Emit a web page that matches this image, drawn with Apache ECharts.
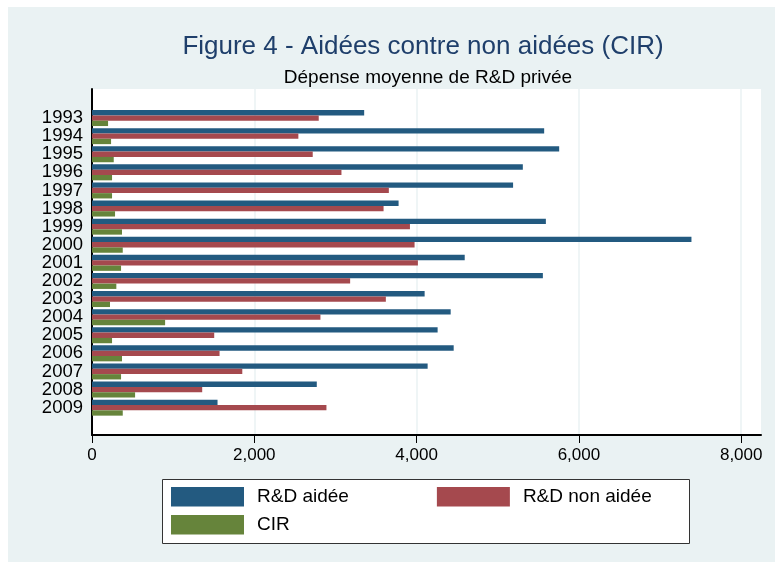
<!DOCTYPE html>
<html>
<head>
<meta charset="utf-8">
<title>Figure 4 - Aidées contre non aidées (CIR)</title>
<script src="https://cdn.jsdelivr.net/npm/echarts@6/dist/echarts.min.js"></script>
<style>
  html, body { margin: 0; padding: 0; background: #fff; }
  #chart { position: absolute; left: 8px; top: 7px; width: 767px; height: 555px; }
</style>
</head>
<body>
<div id="chart"></div>
<script>
const years = ["1993", "1994", "1995", "1996", "1997", "1998", "1999", "2000", "2001",
  "2002", "2003", "2004", "2005", "2006", "2007", "2008", "2009"];
const rdAidee = [3354, 5572, 5757, 5309, 5189, 3778, 5593, 7387, 4593, 5556, 4099, 4420, 4259, 4457, 4136, 2770, 1547];
const rdNonAidee = [2794, 2543, 2720, 3074, 3658, 3593, 3918, 3975, 4016, 3181, 3621, 2815, 1506, 1572, 1852, 1358, 2889];
const cir = [198, 235, 268, 247, 247, 284, 370, 379, 358, 300, 222, 901, 247, 370, 358, 531, 379];
const xTicks = [0, 2000, 4000, 6000, 8000];

const font = "'Liberation Sans', Arial, Helvetica, sans-serif";
const xMax = 8244;

const chart = echarts.init(document.getElementById("chart"));

function barSeries(name, data, color) {
  return {
    name: name,
    type: "bar",
    xAxisIndex: 1,
    yAxisIndex: 1,
    data: data,
    barWidth: 5.33,
    barGap: "0%",
    itemStyle: { color: color },
    emphasis: { disabled: true }
  };
}

const option = {
  backgroundColor: "#eaf2f3",
  animation: false,
  title: [
    {
      text: "Figure 4 - Aidées contre non aidées (CIR)",
      left: 415,
      top: 27,
      textAlign: "center",
      padding: 0,
      textStyle: { fontFamily: font, fontSize: 26, fontWeight: "normal", color: "#1f3f6b" }
    },
    {
      text: "Dépense moyenne de R&D privée",
      left: 420,
      top: 61,
      textAlign: "center",
      padding: 0,
      textStyle: { fontFamily: font, fontSize: 19, fontWeight: "normal", color: "#000" }
    }
  ],
  legend: [
    {
      data: ["R&D aidée", "R&D non aidée"],
      left: 163,
      top: 480,
      padding: 0,
      icon: "rect",
      itemWidth: 73,
      itemHeight: 19.5,
      itemGap: 88,
      selectedMode: false,
      textStyle: { fontFamily: font, fontSize: 19, color: "#000", padding: [12, 0, 0, 8] }
    },
    {
      data: ["CIR"],
      left: 163,
      top: 508,
      padding: 0,
      icon: "rect",
      itemWidth: 73,
      itemHeight: 19.5,
      selectedMode: false,
      textStyle: { fontFamily: font, fontSize: 19, color: "#000", padding: [12, 0, 0, 8] }
    }
  ],
  graphic: [
    {
      type: "rect",
      z: -1,
      shape: { x: 154.5, y: 472.5, width: 527, height: 64 },
      style: { fill: "#fff", stroke: "#333", lineWidth: 1 }
    }
  ],
  grid: [
    { left: 84, right: 14, top: 82, bottom: 127, show: true, backgroundColor: "#fff", borderWidth: 0 },
    { left: 84, right: 14, top: 102, height: 307.7 }
  ],
  xAxis: [
    {
      gridIndex: 0,
      type: "value",
      min: 0,
      max: xMax,
      interval: 2000,
      axisLine: { show: true, lineStyle: { color: "#000", width: 2 } },
      axisTick: { show: true, length: 8, customValues: xTicks, lineStyle: { color: "#000", width: 1 } },
      axisLabel: {
        customValues: xTicks,
        margin: 12,
        fontFamily: font,
        fontSize: 17,
        color: "#000",
        formatter: function (v) { return v.toLocaleString("en-US"); }
      },
      splitLine: { show: true, lineStyle: { color: "#eaf2f3", width: 1.5 } }
    },
    { gridIndex: 1, type: "value", min: 0, max: xMax, show: false }
  ],
  yAxis: [
    {
      gridIndex: 0,
      type: "value",
      axisLine: { show: true, lineStyle: { color: "#000", width: 2 } },
      axisTick: { show: false },
      axisLabel: { show: false },
      splitLine: { show: false }
    },
    {
      gridIndex: 1,
      type: "category",
      data: years,
      inverse: true,
      axisLine: { show: false },
      axisTick: { show: false },
      axisLabel: { interval: 0, margin: 9, fontFamily: font, fontSize: 18.5, lineHeight: 18, color: "#000" }
    }
  ],
  series: [
    barSeries("R&D aidée", rdAidee, "#235a80"),
    barSeries("R&D non aidée", rdNonAidee, "#a5494e"),
    barSeries("CIR", cir, "#66843b")
  ]
};

chart.setOption(option);
</script>
</body>
</html>
